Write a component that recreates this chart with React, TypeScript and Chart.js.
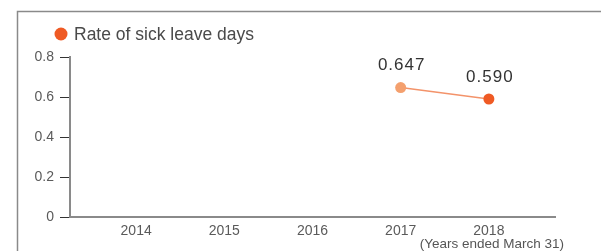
import React, { useEffect, useRef } from "react";
import { Chart, registerables } from "chart.js";

Chart.register(...registerables);

const years = [2014, 2015, 2016, 2017, 2018];
const sickLeaveRate: (number | null)[] = [null, null, null, 0.647, 0.59];
const valueLabels = ["", "", "", "0.647", "0.590"];
const yTicks = [0, 0.2, 0.4, 0.6, 0.8];
const legendLabel = "Rate of sick leave days";
const xAxisNote = "(Years ended March 31)";

const FONT = "'Liberation Sans', Arial, Helvetica, sans-serif";
const DARK = "#ef5a24";
const LIGHT = "#f4a06e";

const decorPlugin = {
  id: "decor",
  beforeDraw(chart: any) {
    const ctx = chart.ctx;
    ctx.save();
    ctx.strokeStyle = "#8a8a8a";
    ctx.lineWidth = 1.5;
    ctx.beginPath();
    ctx.moveTo(17.5, 251);
    ctx.lineTo(17.5, 11.5);
    ctx.lineTo(601, 11.5);
    ctx.stroke();
    // legend
    ctx.fillStyle = DARK;
    ctx.beginPath();
    ctx.arc(61, 34, 6.5, 0, Math.PI * 2);
    ctx.fill();
    ctx.fillStyle = "#4a4a4a";
    ctx.font = `17.5px ${FONT}`;
    ctx.textBaseline = "middle";
    ctx.textAlign = "left";
    ctx.fillText(legendLabel, 74, 35);
    ctx.restore();
  },
  afterDraw(chart: any) {
    const ctx = chart.ctx;
    ctx.save();
    const meta = chart.getDatasetMeta(0);
    ctx.fillStyle = "#333";
    ctx.font = `17px ${FONT}`;
    (ctx as any).letterSpacing = "1px";
    ctx.textAlign = "center";
    ctx.textBaseline = "middle";
    meta.data.forEach((pt: any, i: number) => {
      if (sickLeaveRate[i] == null) return;
      ctx.fillText(valueLabels[i], pt.x + 1, pt.y - 22);
    });
    (ctx as any).letterSpacing = "0px";
    ctx.fillStyle = "#555";
    ctx.font = `13.5px ${FONT}`;
    ctx.textAlign = "right";
    ctx.fillText(xAxisNote, 564, 244);
    ctx.restore();
  },
};

export default function App() {
  const ref = useRef<HTMLCanvasElement>(null);
  useEffect(() => {
    if (!ref.current) return;
    const chart = new Chart(ref.current, {
      type: "line",
      data: {
        datasets: [
          {
            data: years.map((y, i) => ({ x: y, y: sickLeaveRate[i] as any })),
            borderColor: "#f3936a",
            borderWidth: 1.5,
            pointRadius: 5.5,
            pointBorderWidth: 0,
            pointBackgroundColor: years.map((_, i) => (i === 3 ? LIGHT : DARK)),
            spanGaps: false,
          },
        ],
      },
      plugins: [decorPlugin],
      options: {
        animation: false,
        responsive: false,
        layout: { padding: { left: 0, top: 57, right: 46, bottom: 14 } },
        plugins: { legend: { display: false }, tooltip: { enabled: false } },
        scales: {
          x: {
            type: "linear",
            min: 2013.25,
            max: 2018.75,
            afterBuildTicks: (s: any) => {
              s.ticks = years.map((v) => ({ value: v }));
            },
            afterFit: (s: any) => {
              s.height = 20;
            },
            grid: { display: true, drawOnChartArea: false, drawTicks: false },
            border: { color: "#8a8a8a", width: 2 },
            ticks: {
              padding: 6,
              color: "#5a5a5a",
              font: { size: 14, family: FONT },
              maxRotation: 0,
              callback: (v: any) => String(v),
            },
          },
          y: {
            min: 0,
            max: 0.8,
            afterBuildTicks: (s: any) => {
              s.ticks = yTicks.map((v) => ({ value: v }));
            },
            afterFit: (s: any) => {
              s.width = 70;
            },
            grid: {
              display: true,
              drawOnChartArea: false,
              drawTicks: true,
              tickLength: 10,
              tickColor: "#333",
              tickWidth: 1,
            },
            border: { color: "#8a8a8a", width: 2 },
            ticks: {
              padding: 6,
              color: "#5a5a5a",
              font: { size: 14, family: FONT },
              callback: (v: any) => (v === 0 ? "0" : Number(v).toFixed(1)),
            },
          },
        },
      },
    });
    return () => chart.destroy();
  }, []);
  return (
    <div style={{ position: "fixed", left: 0, top: 0, width: 601, height: 251, background: "#fff" }}>
      <canvas ref={ref} width={601} height={251} style={{ display: "block" }} />
    </div>
  );
}
